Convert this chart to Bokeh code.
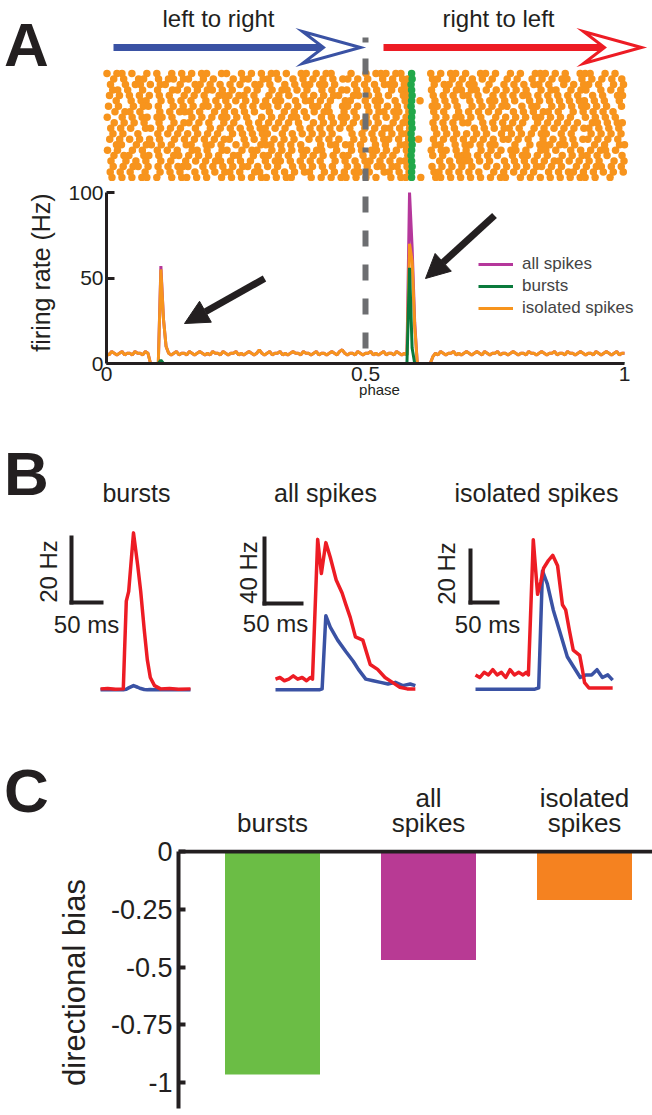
import numpy as np
from bokeh.plotting import figure
from bokeh.layouts import row
from bokeh.models import (Range1d, FixedTicker, Label, Arrow, NormalHead, Span,
                          Legend, LegendItem, ColumnDataSource)
from bokeh.core.properties import value
from bokeh.embed import file_html
from bokeh.resources import INLINE

FONT = "Liberation Sans"
BLACK = "#231F20"

# ---------------- DATA ----------------
# Panel A: firing rate vs phase (bins of 0.005)
PHASE_STEP = 0.005
isolated_rate = [
    6, 5, 7, 6, 5, 6, 7, 5, 6, 6, 5, 7, 6, 6, 5, 7, 6,
    0, 0, 0, 0,
    55, 26, 10,
    6, 5, 6, 7, 5, 6, 6, 5, 7, 6, 5, 6, 7, 6, 5, 6, 5, 7, 6, 6,
    5, 7, 6, 5, 6, 6, 7, 5, 6, 5, 6, 7, 6, 5, 6, 8, 6, 5, 6, 7,
    5, 6, 6, 7, 5, 6, 5, 6, 7, 6, 6, 5, 7, 6, 6, 5, 6, 7, 5, 6,
    6, 5, 6, 7, 6, 5, 7, 8, 6, 5, 6, 6, 5, 7, 6, 5, 6, 6, 7, 5,
    6, 5, 6, 7, 5, 6, 6, 5, 7, 6, 5, 6,
    5, 70, 60, 22,
    0, 0, 0, 0, 0, 0,
    4, 6, 5, 7, 6, 5, 6, 6, 7, 5, 6, 5, 6, 7, 6, 5, 6, 7, 6, 5,
    7, 6, 5, 6, 6, 7, 5, 6, 6, 5, 6, 7, 6, 5, 6, 6, 5, 7, 6, 6,
    5, 6, 7, 6, 5, 6, 6, 7, 5, 6, 6, 5, 7, 6, 6, 5, 6, 7, 6, 5,
    6, 6, 5, 7, 6, 5, 6, 7, 6, 5, 6, 7, 5, 6, 6,
]
all_rate = [
    6, 5, 7, 6, 5, 6, 7, 5, 6, 6, 5, 7, 6, 6, 5, 7, 6,
    0, 0, 0, 0,
    57, 26, 10,
    6, 5, 6, 7, 5, 6, 6, 5, 7, 6, 5, 6, 7, 6, 5, 6, 5, 7, 6, 6,
    5, 7, 6, 5, 6, 6, 7, 5, 6, 5, 6, 7, 6, 5, 6, 8, 6, 5, 6, 7,
    5, 6, 6, 7, 5, 6, 5, 6, 7, 6, 6, 5, 7, 6, 6, 5, 6, 7, 5, 6,
    6, 5, 6, 7, 6, 5, 7, 8, 6, 5, 6, 6, 5, 7, 6, 5, 6, 6, 7, 5,
    6, 5, 6, 7, 5, 6, 6, 5, 7, 6, 5, 6,
    5, 100, 68, 24,
    0, 0, 0, 0, 0, 0,
    4, 6, 5, 7, 6, 5, 6, 6, 7, 5, 6, 5, 6, 7, 6, 5, 6, 7, 6, 5,
    7, 6, 5, 6, 6, 7, 5, 6, 6, 5, 6, 7, 6, 5, 6, 6, 5, 7, 6, 6,
    5, 6, 7, 6, 5, 6, 6, 7, 5, 6, 6, 5, 7, 6, 6, 5, 6, 7, 6, 5,
    6, 6, 5, 7, 6, 5, 6, 7, 6, 5, 6, 7, 5, 6, 6,
]
bursts_rate = [
    0, 0, 0, 0, 0, 0, 0, 0, 0, 0, 0, 0, 0, 0, 0, 0, 0, 0, 0, 0, 0,
    2,
    0, 0, 0, 0, 0, 0, 0, 0, 0, 0, 0, 0, 0, 0, 0, 0, 0, 0, 0, 0,
    0, 0, 0, 0, 0, 0, 0, 0, 0, 0, 0, 0, 0, 0, 0, 0, 0, 0, 0, 0,
    0, 0, 0, 0, 0, 0, 0, 0, 0, 0, 0, 0, 0, 0, 0, 0, 0, 0, 0, 0,
    0, 0, 0, 0, 0, 0, 0, 0, 0, 0, 0, 0, 0, 0, 0, 0, 0, 0, 0, 0,
    0, 0, 0, 0, 0, 0, 0, 0, 0, 0, 0, 0, 0, 0, 0,
    56, 9,
    0, 0, 0, 0, 0, 0, 0, 0, 0, 0, 0, 0, 0, 0, 0, 0, 0, 0, 0, 0,
    0, 0, 0, 0, 0, 0, 0, 0, 0, 0, 0, 0, 0, 0, 0, 0, 0, 0, 0, 0,
    0, 0, 0, 0, 0, 0, 0, 0, 0, 0, 0, 0, 0, 0, 0, 0, 0, 0, 0, 0,
    0, 0, 0, 0, 0, 0, 0, 0, 0, 0, 0, 0, 0, 0, 0, 0, 0, 0, 0, 0,
    0, 0,
]

# Panel A raster: one string per trial, '#' = isolated spike in that phase bin (104 bins)
RASTER_BINS = 104
raster_rows = [
    "#.##.#.. #.#..#.# .#.##..# #..#.#.# .##.#..# #.#.##.. .#..#.## #.##.... .#.#.##. #..##.#. .#.#..## #.#.#..# ##..#.#.",
    ".#.#..## ..#.##.# #..#.#.. .#.##..# #.#..#.# .#.#.#.# #.#.#..# .#.##... .##..#.# .#.#.#.. #.#..#.# .#.##..# .#.#.#.#",
    "#..#.##. #.##..#. .##.#.#. #.#..##. #..#.#.# #.##.#.. .#.#.#.# ##.##... .#.##.#. ##..#..# .#.#.##. #..#.#.# #.#..#.#",
    ".##.#..# ..#..##. #.#.##.# .#..#.#. .#.##.#. #..#.#.# #.#.#.#. .#.##... .#..#.## .##.#.#. #.#.#..# .##..#.# #..#.#.#",
    "#.#.#.#. #.#.#..# .#.#..## #.##.#.. #.#.#..# .#.#.##. .##.#.#. #..##... .#.#.#.# #.#..#.# .#.##.#. #.#.#.#. .#.#..##",
    ".#..#.## ..#.#.#. #..#.#.# .#.#.#.# .##..#.# #.#.#..# #..#.##. .#.#..#. .#.#.#.. #.#.##.# .#..#.#. #.#.#.## .#.#..#.",
    "#.#..#.# #.#..#.# .#.##.#. #..#.#.# #.#.#.#. .##.#..# #.#.#.#. #.#.#... .##.#.#. .#.#.#.# #..#.##. .#.#.#.# #.#.#..#",
    ".#.##.#. ..#.#.## #.#..#.# .#.#.#.. #..#.#.# .#.##..# .#..#.## .##.#... .#.#..#. #.#.#.#. .#.#.#.# #.#..#.# .#.#.#..",
    "#..#.#.# #.##.#.. .#.#.#.# #.#.#..# .#.#.##. #..#.#.# #.#.#.#. #.#.#... ..#.#.## .#.#..#. #.#.#.## .#.#.#.. #.#.#.#.",
    ".#.#.#.# ..#..#.# #.#.#..# .#..#.#. #.#.#.#. .#.#.#.# .#.##.#. .#.##... .#.#.#.# #..#.#.# .#.#..#. #.#.#.#. .##.#.##",
    "#.#.#..# #.#.#.#. .#..#.#. #.#.#.## .#.#..#. #.#.#.#. #..#.#.# #.#.#... .#.#.#.. .#.#.#.# #.#..#.# .#.#.#.# #.#.#.#.",
    ".#.#..#. ..#.#.#. #.#.#.#. .#.#.#.# #..#.#.# .#.#.#.. .#.#.#.# .#.##... ..#.#.#. #.#.#..# .#.#.#.# #..#.#.. .#.#.#.#",
    "#.#.#.#. #.#..#.# .#.#.#.# #..#.#.# .#.#.#.. #.#.#.#. .#.#.#.# #.#.#.#. .#.#.#.# .#.#.#.# #.#.#..# .#.#.#.# #.#.#.#.",
    ".##..#.# #.#.#..# #..##.#. .#.#..## #.#.#.#. ..#.##.# #.#..#.# ..###... .##..#.# #.#.##.. .#..#.## #.##.#.. .#.#..##",
    "#.#..#.# ..#.#.#. .##.#..# #..#.##. .#.#.#.# #.##..#. .#.#.##. #.#.#... .#.##.#. #..#.#.# .##.#..# #.#..#.# .#.##.#.",
    ".#.##..# #.#..##. #.#.#.#. .##..#.# #.#.#..# .#.#.#.# #..#.#.# .#..#... .#.#..## #.#.#.#. .#.##.#. #..#.#.# #.#.#..#",
    "#..#.#.# ..#.#..# .#.#.##. #.#.#..# .##.#.#. #.#..#.# .#.##.#. #.##.... ..#.#.## #.#.#..# .#.#.#.# .##.#.#. #.#..#.#",
    ".#.#.##. #.#.#.## #..#.#.# .#.##.#. #.#..#.# .#.#.#.. #.#.#.## .##.#... .#.#.#.# .#..#.#. #.#.#.## .#.#..#. #.##.#.#",
    "#.#.#..# ..#.#.#. .#.#.#.# #.#..##. .#.#.#.# #..#.#.# .##.#..# #.#.#... .##.#.#. #.#..#.# .#.#.#.. #.#.##.# .#.#.#.#",
    ".#.#.#.# #.#..#.# #.#.#..# .#.#.#.# #.#.##.. .#.#.#.# #.#.#.#. .#.##..# ..##.#.# .#.#.#.# #..#.#.# .#.#.#.# #.#..#..",
]
# sub-bin position of the spikes in each trial row (fraction of a bin)
raster_row_shift = [0.0, 0.35, 0.7, 0.15, 0.5, 0.85, 0.3, 0.6, 0.05, 0.45,
                    0.75, 0.2, 0.55, 0.9, 0.1, 0.4, 0.8, 0.25, 0.65, 0.0]
# burst spikes (one per trial, phase)
burst_raster_phase = [0.589, 0.590, 0.588, 0.589, 0.590, 0.589, 0.588, 0.590, 0.589, 0.589,
                      0.590, 0.588, 0.589, 0.590, 0.589, 0.588, 0.589, 0.590, 0.589, 0.589]
direction_switch = 0.5
legend_labels = ["all spikes", "bursts", "isolated spikes"]

# Panel B: PSTH-like traces (ms, Hz)
bursts_t = [0, 12, 25, 38, 40, 43, 47, 55, 62, 67, 73, 78, 83, 90, 100, 115, 130, 150]
bursts_red = [0.5, 0.6, 0.4, 0.5, 11.5, 27.5, 30.5, 48.5, 38.5, 30.5, 18.5, 9.5, 4, 1.5, 0.5, 0.6, 0.4, 0.5]
bursts_blue = [0.2, 0.3, 0.2, 0.2, 0.3, 0.4, 0.8, 1.5, 1, 0.6, 0.3, 0.2, 0.3, 0.2, 0.2, 0.3, 0.2, 0.2]

all_t_red = [0, 6, 12, 18, 24, 30, 36, 42, 47, 50, 57, 62, 68, 74, 82, 90, 95, 101, 108, 118, 128, 138,
             148, 158, 168, 178, 189]
all_red = [7, 8, 6, 7, 9, 7, 8, 6, 8, 7, 93, 72, 91, 82, 68, 60, 53, 45, 33, 31, 16, 13, 8, 5, 2, 1, 1]
all_t_blue = [0, 10, 20, 30, 40, 50, 60, 63, 68, 74, 84, 95, 105, 112, 122, 132, 142, 152, 162, 172, 182, 189]
all_blue = [0.5, 0.5, 0.5, 0.5, 0.5, 0.5, 0.5, 1, 46, 39, 31, 24, 18, 13, 7, 6, 5, 4, 5, 3, 4, 3]

iso_t_red = [0, 8, 16, 24, 32, 40, 48, 56, 64, 72, 80, 88, 94, 98, 107, 115, 121, 126, 135, 143, 152,
             161, 167, 174, 181, 193, 198, 202, 210, 220, 235, 254]
iso_red = [6, 5, 7, 6, 8, 6, 7, 5, 8, 6, 7, 6, 7, 6, 58, 37, 42, 47, 50, 52, 48, 33, 31, 23, 15.5, 13.5,
           8, 3, 1, 1, 1, 1]
iso_t_blue = [0, 20, 40, 60, 80, 100, 110, 117, 124, 133, 144, 157, 170, 185, 194, 205, 215, 225, 235, 245, 254]
iso_blue = [0.5, 0.5, 0.5, 0.5, 0.5, 0.5, 0.5, 1, 46, 41, 31, 22, 13, 8, 5, 6, 6, 8, 5, 6, 4]

panel_b_titles = ["bursts", "all spikes", "isolated spikes"]
scale_ms = [50, 50, 50]
scale_hz = [20, 40, 20]

# Panel C: directional bias
bias_categories = ["bursts", "all spikes", "isolated spikes"]
bias_values = [-0.965, -0.47, -0.21]
bias_ticks = [0, -0.25, -0.5, -0.75, -1]
bias_tick_labels = ["0", "-0.25", "-0.5", "-0.75", "-1"]

# colours
ORANGE = "#F7941D"
MAGENTA = "#B5379B"
DKGREEN = "#0A7A3C"
RGREEN = "#22A84A"
BLUE = "#3A52A4"
RED = "#ED1C24"
BAR_COLORS = ["#6BBD45", "#B83A94", "#F58220"]
GREY = "#6D6E71"
PAGE_W = 652


def style_fig(p):
    p.outline_line_color = None
    p.background_fill_color = "white"
    p.border_fill_color = "white"
    p.grid.visible = False


def bare_fig(w, h, xr, yr):
    p = figure(width=w, height=h, x_range=xr, y_range=yr, output_backend="svg", toolbar_location=None,
               x_axis_type=None, y_axis_type=None, min_border=0, min_border_left=0,
               min_border_right=0, min_border_top=0, min_border_bottom=0)
    style_fig(p)
    return p


def panel_letter(p, x, y, txt):
    p.add_layout(Label(x=x, y=y, text=txt, text_align="center", text_baseline="middle",
                       text_font=FONT, text_font_style="bold", text_font_size="62px", text_color=BLACK))


# ---------------- PANEL A ----------------
A_FL, A_FB = 106, 363      # page x of phase 0, page y of 0 Hz
PPX, PHZ = 518.0, 1.71     # px per phase unit, px per Hz
AH_BOT = 181               # header (raster) / rate-plot boundary
A_BOT = 413
ROW0, ROWSTEP = 73.0, 104.0 / 19.0


def ax(px):
    return (px - A_FL) / PPX


def ay(py):
    return (A_FB - py) / PHZ


def hy(py):
    return (py - ROW0) / ROWSTEP


# header: arrows, texts, raster
pAH = bare_fig(PAGE_W, AH_BOT, Range1d(ax(0), ax(PAGE_W)), Range1d(hy(AH_BOT), hy(0)))
rx, ry = [], []
for r, s in enumerate(raster_rows):
    s = s.replace(" ", "")
    for b, ch in enumerate(s):
        if ch == "#":
            rx.append((b + 0.1 + raster_row_shift[r % len(raster_row_shift)]) / RASTER_BINS)
            ry.append(r)
pAH.scatter(rx, ry, size=7.5, fill_color=ORANGE, line_color=None)
pAH.scatter(burst_raster_phase, list(range(len(burst_raster_phase))), size=7.5, fill_color=RGREEN,
            line_color=None)
pAH.segment(x0=[direction_switch], y0=[hy(37)], x1=[direction_switch], y1=[hy(AH_BOT)],
            line_color=GREY, line_width=6, line_dash="5 16 16 18")
for x_start, tip, col in [(113, 360, BLUE), (383, 641, RED)]:
    pAH.segment(x0=[ax(x_start)], y0=[hy(47)], x1=[ax(tip - 30)], y1=[hy(47)], line_color=col, line_width=7)
    hx = [ax(tip), ax(tip - 58), ax(tip - 37), ax(tip - 58)]
    hyy = [hy(47), hy(47 - 16), hy(47), hy(47 + 16)]
    pAH.patch(hx, hyy, fill_color="white", line_color=col, line_width=3, line_join="miter")
pAH.add_layout(Label(x=ax(218), y=hy(18), text="left to right", text_align="center", text_baseline="middle",
                     text_font=FONT, text_font_size="24px", text_color=BLACK))
pAH.add_layout(Label(x=ax(498), y=hy(18), text="right to left", text_align="center", text_baseline="middle",
                     text_font=FONT, text_font_size="24px", text_color=BLACK))
panel_letter(pAH, ax(26), hy(44), "A")

# rate plot
pA = figure(width=PAGE_W, height=A_BOT - AH_BOT, x_range=Range1d(ax(A_FL), ax(PAGE_W)),
            y_range=Range1d(ay(A_FB), ay(AH_BOT)), output_backend="svg", toolbar_location=None,
            min_border_left=A_FL, min_border_right=0, min_border_top=0, min_border_bottom=A_BOT - A_FB)
style_fig(pA)
pA.segment(x0=[direction_switch], y0=[ay(348)], x1=[direction_switch], y1=[ay(AH_BOT)],
           line_color=GREY, line_width=6, line_dash="16 18")
ph_all = [i * PHASE_STEP for i in range(len(all_rate))]
ph_iso = [i * PHASE_STEP for i in range(len(isolated_rate))]
ph_bur = [i * PHASE_STEP for i in range(len(bursts_rate))]
r_all = pA.line(ph_all, all_rate, line_color=MAGENTA, line_width=3)
r_iso = pA.line(ph_iso, isolated_rate, line_color=ORANGE, line_width=3)
r_bur = pA.line(ph_bur, bursts_rate, line_color=DKGREEN, line_width=3)

legend = Legend(items=[LegendItem(label=legend_labels[0], renderers=[r_all]),
                       LegendItem(label=legend_labels[1], renderers=[r_bur]),
                       LegendItem(label=legend_labels[2], renderers=[r_iso])],
                location=(372, 45), border_line_color=None, background_fill_alpha=0,
                label_text_font=FONT, label_text_font_size="17px", glyph_width=35,
                glyph_height=20, label_height=20, spacing=2, padding=0, margin=0, label_standoff=9)
pA.add_layout(legend)

for (x0, y0, x1, y1) in [(264, 278, 184, 323), (494, 215, 425, 278)]:
    pA.add_layout(Arrow(end=NormalHead(size=24, fill_color=BLACK, line_color=BLACK),
                        x_start=ax(x0), y_start=ay(y0), x_end=ax(x1), y_end=ay(y1),
                        line_width=7, line_color=BLACK))

ya = pA.yaxis[0]
ya.ticker = FixedTicker(ticks=[0, 50, 100])
ya.bounds = (0, 100)
ya.axis_line_width = 3
ya.axis_line_color = BLACK
ya.major_tick_line_width = 3
ya.major_tick_line_color = BLACK
ya.major_tick_in = 8
ya.major_tick_out = 0
ya.minor_tick_line_color = None
ya.major_label_text_font = FONT
ya.major_label_text_font_size = "21px"
ya.major_label_text_color = BLACK
ya.major_label_standoff = 3
ya.axis_label = "firing rate (Hz)"
ya.axis_label_text_font = FONT
ya.axis_label_text_font_size = "25px"
ya.axis_label_text_font_style = "normal"
ya.axis_label_text_color = BLACK
ya.axis_label_standoff = 10

xa = pA.xaxis[0]
xa.ticker = FixedTicker(ticks=[0, 0.5, 1])
xa.major_label_overrides = {0: "0", 0.5: "0.5", 1: "1"}
xa.bounds = (0, 1)
xa.axis_line_width = 3
xa.axis_line_color = BLACK
xa.major_tick_in = 0
xa.major_tick_out = 0
xa.minor_tick_line_color = None
xa.major_label_text_font = FONT
xa.major_label_text_font_size = "21px"
xa.major_label_text_color = BLACK
xa.major_label_standoff = 3
xa.axis_label = "phase"
xa.axis_label_text_font = FONT
xa.axis_label_text_font_size = "15px"
xa.axis_label_text_font_style = "normal"
xa.axis_label_text_color = BLACK
xa.axis_label_standoff = -3

# ---------------- PANEL B ----------------
B_TOP, B_BOT = A_BOT, 722
B_H = B_BOT - B_TOP
B_BASE = 690
b_specs = [
    dict(L=0, W=200, x0=100, ppm=0.60, pph=3.25, bar=(71, 602), title=(136, 492),
         hz=(48, 571), ms=(86, 624), t=[bursts_t, bursts_t], v=[bursts_blue, bursts_red]),
    dict(L=200, W=220, x0=275, ppm=0.74, pph=1.625, bar=(264, 603), title=(325, 492),
         hz=(248, 572), ms=(275, 623), t=[all_t_blue, all_t_red], v=[all_blue, all_red]),
    dict(L=420, W=232, x0=475, ppm=0.54, pph=2.6, bar=(470, 602), title=(536, 492),
         hz=(446, 573), ms=(487, 624), t=[iso_t_blue, iso_t_red], v=[iso_blue, iso_red]),
]
b_figs = []
for k, sp in enumerate(b_specs):
    def bx(px, sp=sp):
        return (px - sp["x0"]) / sp["ppm"]

    def by(py, sp=sp):
        return (B_BASE - py) / sp["pph"]

    p = bare_fig(sp["W"], B_H, Range1d(bx(sp["L"]), bx(sp["L"] + sp["W"])), Range1d(by(B_BOT), by(B_TOP)))
    p.line(sp["t"][0], sp["v"][0], line_color=BLUE, line_width=3.5, line_join="round")
    p.line(sp["t"][1], sp["v"][1], line_color=RED, line_width=3.5, line_join="round")
    cx0, cy0 = bx(sp["bar"][0]), by(sp["bar"][1])
    p.segment(x0=[cx0, cx0], y0=[cy0, cy0], x1=[cx0, cx0 + scale_ms[k]], y1=[cy0 + scale_hz[k], cy0],
              line_color=BLACK, line_width=4, line_cap="square")
    p.add_layout(Label(x=bx(sp["title"][0]), y=by(sp["title"][1]), text=panel_b_titles[k],
                       text_align="center", text_baseline="middle", text_font=FONT,
                       text_font_size="25px", text_color=BLACK))
    p.add_layout(Label(x=bx(sp["hz"][0]), y=by(sp["hz"][1]), text=f"{scale_hz[k]} Hz",
                       text_align="center", text_baseline="middle", angle=np.pi / 2, text_font=FONT,
                       text_font_size="24px", text_color=BLACK))
    p.add_layout(Label(x=bx(sp["ms"][0]), y=by(sp["ms"][1]), text=f"{scale_ms[k]} ms",
                       text_align="center", text_baseline="middle", text_font=FONT,
                       text_font_size="24px", text_color=BLACK))
    if k == 0:
        panel_letter(p, bx(26), by(473), "B")
    b_figs.append(p)

# ---------------- PANEL C ----------------
C_TOP, C_SPLIT, C_BOT = B_BOT, 837, 1115
C_FL = 178
Y0PX, PPU = 851.0, 231.0
X0PX, PPC = 272.0, 156.0


def cxp(px):
    return (px - X0PX) / PPC


def cyp(py):
    return (Y0PX - py) / PPU


# header: panel letter + category labels
pCH = bare_fig(PAGE_W, C_SPLIT - C_TOP, Range1d(cxp(0), cxp(PAGE_W)), Range1d(cyp(C_SPLIT), cyp(C_TOP)))
idx = list(range(len(bias_categories)))
line1, line2 = [], []
for c in bias_categories:
    w = c.split(" ")
    line1.append(w[0] if len(w) > 1 else "")
    line2.append(w[-1])
src = ColumnDataSource(dict(x=idx, l1=line1, l2=line2))
pCH.text(x="x", y=cyp(822), text="l2", source=src, text_align="center", text_baseline="middle",
         text_font=value(FONT), text_font_size="26px", text_color=BLACK)
pCH.text(x="x", y=cyp(797), text="l1", source=src, text_align="center", text_baseline="middle",
         text_font=value(FONT), text_font_size="26px", text_color=BLACK)
panel_letter(pCH, cxp(26), cyp(790), "C")

C_FT = 849
pC = figure(width=PAGE_W, height=C_BOT - C_SPLIT, x_range=Range1d(cxp(C_FL), cxp(PAGE_W)),
            y_range=Range1d(cyp(C_BOT), cyp(C_FT)), output_backend="svg", toolbar_location=None,
            x_axis_type=None, min_border_left=C_FL, min_border_right=0, min_border_top=C_FT - C_SPLIT,
            min_border_bottom=0)
style_fig(pC)
pC.vbar(x=idx, top=bias_values, bottom=0, width=95 / PPC, fill_color=BAR_COLORS, line_color=None)
pC.add_layout(Span(location=0, dimension="width", line_color=BLACK, line_width=4))

yc = pC.yaxis[0]
yc.ticker = FixedTicker(ticks=bias_ticks)
yc.major_label_overrides = {t: l for t, l in zip(bias_ticks, bias_tick_labels)}
yc.bounds = (cyp(1108), 0)
yc.axis_line_width = 4
yc.axis_line_color = BLACK
yc.major_tick_line_width = 4
yc.major_tick_line_color = BLACK
yc.major_tick_in = 7
yc.major_tick_out = 0
yc.minor_tick_line_color = None
yc.major_label_text_font = FONT
yc.major_label_text_font_size = "27px"
yc.major_label_text_color = BLACK
yc.major_label_standoff = 6
yc.axis_label = "directional bias"
yc.axis_label_text_font = FONT
yc.axis_label_text_font_size = "31px"
yc.axis_label_text_font_style = "normal"
yc.axis_label_text_color = BLACK
yc.axis_label_standoff = 16

roots = [pAH, pA, row(*b_figs, spacing=0), pCH, pC]
open("out.html", "w").write(file_html(roots, INLINE))
